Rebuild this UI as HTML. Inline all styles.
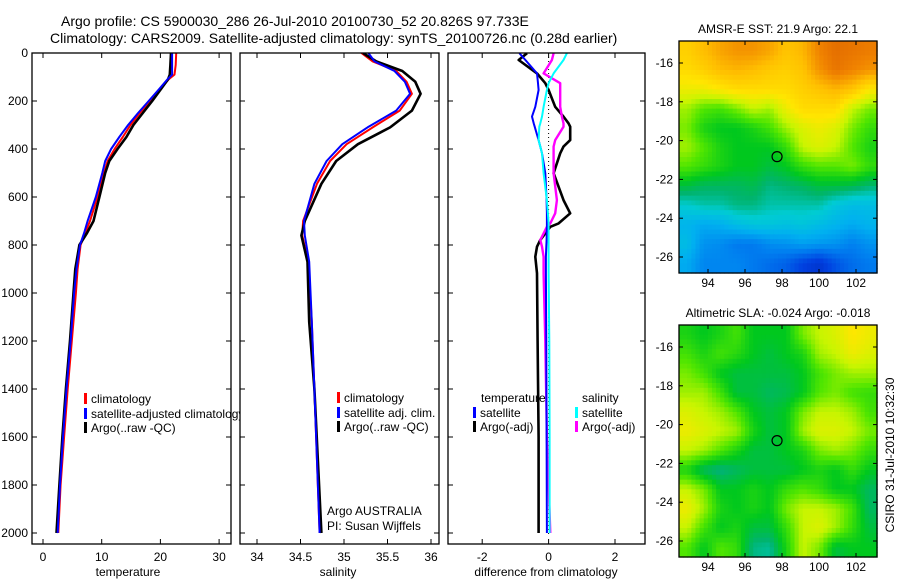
<!DOCTYPE html>
<html><head><meta charset="utf-8">
<style>
html,body{margin:0;padding:0;background:#fff;}
svg{display:block;font-family:"Liberation Sans",sans-serif;}
</style></head>
<body>
<svg id="fig" width="900" height="580" viewBox="0 0 900 580" xmlns="http://www.w3.org/2000/svg">
<rect width="900" height="580" fill="#fff"/>
<text x="61" y="26" font-size="14">Argo profile: CS 5900030_286 26-Jul-2010 20100730_52 20.826S 97.733E</text>
<text x="50" y="43" font-size="14">Climatology: CARS2009. Satellite-adjusted climatology: synTS_20100726.nc (0.28d earlier)</text>
<g id="g"></g>
</svg>
<script>
// ---- data ----
const tDepth=[0,50,90,110,150,200,250,300,350,400,450,500,600,700,750,800,900,1000,1200,1400,1600,1800,2000];
const tClim=[22.7,22.6,22.4,21.4,20.0,18.3,16.5,14.9,13.6,12.2,11.0,10.4,9.3,8.0,7.2,6.4,5.9,5.6,4.9,4.2,3.6,3.0,2.6];
const tSat=[22.0,22.0,22.0,21.2,19.8,18.0,16.2,14.5,13.0,11.6,10.6,10.1,9.0,7.6,7.0,6.3,5.7,5.3,4.7,4.0,3.4,2.9,2.5];
const tArgo=[21.8,21.7,21.6,21.3,20.1,18.6,17.0,15.4,14.2,12.7,11.3,10.6,9.6,8.6,7.5,6.2,5.5,5.2,4.6,3.9,3.3,2.8,2.3];
const sDepth=[0,35,75,120,170,240,310,380,450,545,700,760,870,1120,1400,1700,2000];
const sClim=[35.20,35.33,35.60,35.72,35.78,35.64,35.33,35.03,34.84,34.69,34.53,34.52,34.59,34.63,34.66,34.69,34.72];
const sSat=[35.28,35.35,35.58,35.70,35.76,35.60,35.27,34.98,34.80,34.66,34.54,34.55,34.60,34.63,34.66,34.69,34.72];
const sArgo=[35.22,35.37,35.67,35.82,35.88,35.78,35.53,35.16,34.91,34.74,34.55,34.51,34.58,34.60,34.66,34.70,34.74];
const dDepth=[1,29,85,126,154,224,265,293,307,363,390,418,501,613,668,710,724,779,807,849,918,1200,1600,2000];
const dTSat=[-0.88,-0.7,-0.35,-0.32,-0.3,-0.4,-0.5,-0.45,-0.42,-0.3,-0.25,-0.2,-0.1,-0.06,-0.05,-0.05,-0.05,-0.06,-0.07,-0.08,-0.08,-0.07,-0.06,-0.05];
const dTArgo=[-0.65,-0.9,-0.35,-0.1,0.0,0.2,0.45,0.6,0.65,0.65,0.45,0.35,0.15,0.45,0.65,0.3,0.05,-0.25,-0.35,-0.4,-0.35,-0.33,-0.3,-0.3];
const dSSat=[0.55,0.45,0.15,0.0,-0.05,-0.15,-0.2,-0.25,-0.28,-0.3,-0.25,-0.2,-0.15,-0.05,-0.02,0.0,0.0,0.0,0.0,0.0,0.0,0.02,0.03,0.03];
const dSArgo=[0.15,0.1,-0.15,0.35,0.35,0.35,0.4,0.45,0.45,0.2,0.15,0.15,0.15,0.25,0.2,0.05,-0.05,-0.25,-0.2,-0.15,-0.15,-0.1,-0.05,0.05];
const sstGrid=[
[0.72,0.75,0.78,0.80,0.80,0.78,0.74,0.76,0.82,0.85,0.84,0.83],
[0.70,0.72,0.75,0.76,0.75,0.73,0.72,0.74,0.80,0.84,0.82,0.80],
[0.66,0.66,0.68,0.70,0.70,0.70,0.70,0.72,0.74,0.76,0.74,0.68],
[0.60,0.56,0.55,0.58,0.62,0.60,0.66,0.70,0.70,0.70,0.62,0.58],
[0.58,0.52,0.50,0.50,0.52,0.55,0.60,0.64,0.66,0.64,0.58,0.54],
[0.60,0.56,0.52,0.50,0.50,0.50,0.54,0.62,0.64,0.62,0.56,0.52],
[0.56,0.54,0.52,0.50,0.50,0.48,0.50,0.54,0.56,0.56,0.58,0.54],
[0.48,0.46,0.46,0.46,0.47,0.44,0.45,0.46,0.48,0.48,0.47,0.45],
[0.40,0.42,0.42,0.44,0.44,0.42,0.42,0.42,0.42,0.38,0.36,0.36],
[0.34,0.32,0.33,0.36,0.38,0.38,0.37,0.38,0.36,0.34,0.32,0.34],
[0.36,0.28,0.27,0.24,0.24,0.27,0.28,0.30,0.29,0.28,0.25,0.28],
[0.32,0.26,0.26,0.26,0.24,0.22,0.20,0.15,0.12,0.18,0.22,0.24]];
const slaGrid=[
[0.52,0.50,0.52,0.55,0.50,0.50,0.50,0.58,0.62,0.64,0.68,0.66],
[0.55,0.52,0.55,0.53,0.50,0.48,0.50,0.52,0.60,0.62,0.66,0.64],
[0.58,0.55,0.50,0.48,0.48,0.48,0.48,0.50,0.55,0.58,0.60,0.60],
[0.60,0.60,0.55,0.48,0.48,0.46,0.47,0.50,0.56,0.58,0.55,0.54],
[0.64,0.62,0.60,0.56,0.50,0.48,0.50,0.58,0.62,0.62,0.60,0.55],
[0.66,0.64,0.62,0.60,0.52,0.48,0.50,0.60,0.64,0.64,0.62,0.58],
[0.62,0.60,0.56,0.52,0.48,0.48,0.50,0.52,0.58,0.60,0.58,0.54],
[0.52,0.46,0.44,0.46,0.48,0.48,0.48,0.50,0.52,0.50,0.54,0.50],
[0.62,0.58,0.50,0.50,0.52,0.50,0.54,0.56,0.54,0.50,0.50,0.46],
[0.66,0.60,0.52,0.50,0.52,0.50,0.58,0.62,0.62,0.60,0.55,0.46],
[0.62,0.55,0.50,0.52,0.48,0.48,0.54,0.62,0.64,0.60,0.54,0.48],
[0.56,0.50,0.56,0.54,0.44,0.43,0.52,0.62,0.58,0.48,0.50,0.50]];
const depthTicks=[0,200,400,600,800,1000,1200,1400,1600,1800,2000];
const tempTicks=[0,10,20,30];
const salTicks=[34,34.5,35,35.5,36];
const salTickLabels=["34","34.5","35","35.5","36"];
const diffTicks=[-2,0,2];
const lonTicks=[94,96,98,100,102];
const latTicks=[-16,-18,-20,-22,-24,-26];
const argoLon=97.733, argoLat=-20.826;

// ---- helpers ----
const NS="http://www.w3.org/2000/svg";
const G=document.getElementById('g');
function mk(tag,attrs,parent){const e=document.createElementNS(NS,tag);for(const k in attrs)e.setAttribute(k,attrs[k]);(parent||G).appendChild(e);return e;}
const yD=d=>53+d*0.24;
const PT={x0:32,x1:231}, PS={x0:240,x1:439}, PD={x0:448,x1:645}, yTop=53, yBot=544;
const xT=v=>43+v*5.87;
const xS=v=>257+(v-34)*87;
const xD=v=>548.6+v*33.2;

function panel(P,name){
  const r=mk('rect',{x:P.x0,y:yTop,width:P.x1-P.x0,height:yBot-yTop,fill:'#fff',stroke:'none'});
  
  
}
function frame(P,name){
  const r=mk('rect',{x:P.x0,y:yTop,width:P.x1-P.x0,height:yBot-yTop,fill:'none',stroke:'#000','stroke-width':1.3});
  
  
  depthTicks.forEach(d=>{const y=yD(d);
    mk('line',{x1:P.x0,x2:P.x0+5,y1:y,y2:y,stroke:'#000'});
    mk('line',{x1:P.x1-5,x2:P.x1,y1:y,y2:y,stroke:'#000'});});
}
function xticks(P,ticks,labels,fx,name){
  ticks.forEach((v,i)=>{const x=fx(v);
    mk('line',{x1:x,x2:x,y1:yBot,y2:yBot-5,stroke:'#000'});
    mk('line',{x1:x,x2:x,y1:yTop,y2:yTop+5,stroke:'#000'});
    const t=mk('text',{x:x,y:561,'font-size':12,'text-anchor':'middle'});t.textContent=labels[i];
    
    
  });
}
function drawLine(xs,ds,fx,color,w,name,clip){
  const pts=xs.map((v,i)=>fx(v).toFixed(1)+','+yD(ds[i]).toFixed(1)).join(' ');
  const p=mk('polyline',{points:pts,fill:'none',stroke:color,'stroke-width':w,'stroke-linejoin':'round','clip-path':'url(#'+clip+')'});
  
  
}
const defs=mk('defs',{});
[['cT',PT],['cS',PS],['cD',PD]].forEach(([id,P])=>{const c=mk('clipPath',{id:id},defs);mk('rect',{x:P.x0,y:yTop,width:P.x1-P.x0,height:yBot-yTop},c);});

function legend(x,y,color,label,name){
  const b=mk('rect',{x:x,y:y-10,width:3,height:11,fill:color});
  
  
  const t=mk('text',{x:x+7,y:y,'font-size':12});t.textContent=label;
  
  
}
function txt(x,y,s,name,extra){const t=mk('text',Object.assign({x:x,y:y,'font-size':12},extra||{}));t.textContent=s;
  
  return t;}

// ---- temperature panel ----
panel(PT,'temperature');
drawLine(tClim,tDepth,xT,'#f00',2,'temp-climatology-line','cT');
drawLine(tArgo,tDepth,xT,'#000',2.6,'temp-argo-line','cT');
drawLine(tSat,tDepth,xT,'#00f',2,'temp-satellite-line','cT');
legend(84,403,'#f00','climatology','temp-legend-climatology');
legend(84,418,'#00f','satellite-adjusted climatology','temp-legend-satellite');
legend(84,432,'#000','Argo(..raw -QC)','temp-legend-argo');
depthTicks.forEach(d=>txt(28,yD(d)+4,String(d),'depth-tick-label',{'text-anchor':'end'}));
// ---- salinity panel ----
panel(PS,'salinity');
drawLine(sClim,sDepth,xS,'#f00',2,'sal-climatology-line','cS');
drawLine(sArgo,sDepth,xS,'#000',2.6,'sal-argo-line','cS');
drawLine(sSat,sDepth,xS,'#00f',2,'sal-satellite-line','cS');
legend(337,402,'#f00','climatology','sal-legend-climatology');
legend(337,417,'#00f','satellite adj. clim.','sal-legend-satellite');
legend(337,431,'#000','Argo(..raw -QC)','sal-legend-argo');
txt(327,515,'Argo AUSTRALIA','agency-label');
txt(327,530,'PI: Susan Wijffels','pi-label');
// ---- difference panel ----
panel(PD,'difference');
const z=mk('line',{x1:xD(0),x2:xD(0),y1:yD(0),y2:yD(2010),stroke:'#000','stroke-dasharray':'1,3'});


drawLine(dTArgo,dDepth,xD,'#000',2.6,'diff-temp-argo-line','cD');
drawLine(dSArgo,dDepth,xD,'#f0f',2.4,'diff-sal-argo-line','cD');
drawLine(dTSat,dDepth,xD,'#00f',2,'diff-temp-satellite-line','cD');
drawLine(dSSat,dDepth,xD,'#0ff',2,'diff-sal-satellite-line','cD');
txt(481,402,'temperature','diff-legend-temperature-header');
legend(473,417,'#00f','satellite','diff-legend-temp-satellite');
legend(473,431,'#000','Argo(-adj)','diff-legend-temp-argo');
txt(582,402,'salinity','diff-legend-salinity-header');
legend(575,417,'#0ff','satellite','diff-legend-sal-satellite');
legend(575,431,'#f0f','Argo(-adj)','diff-legend-sal-argo');

frame(PT,'temperature');frame(PS,'salinity');frame(PD,'difference');
xticks(PT,tempTicks,tempTicks.map(String),xT,'temperature');
xticks(PS,salTicks,salTickLabels,xS,'salinity');
xticks(PD,diffTicks,diffTicks.map(String),xD,'difference');
txt(128,576,'temperature','x-axis-title-temperature',{'text-anchor':'middle'});
txt(338,576,'salinity','x-axis-title-salinity',{'text-anchor':'middle'});
txt(546,576,'difference from climatology','x-axis-title-difference',{'text-anchor':'middle'});

// ---- maps ----
const cmapStops=[[0,[0,16,144]],[0.15,[0,64,224]],[0.25,[0,128,240]],[0.33,[0,176,240]],[0.4,[0,204,210]],[0.45,[0,180,110]],[0.5,[0,200,30]],[0.56,[80,230,0]],[0.62,[200,245,0]],[0.68,[255,230,0]],[0.75,[255,190,0]],[0.82,[240,130,0]],[0.9,[210,80,0]],[1,[170,30,0]]];
function cmap(v){for(let i=1;i<cmapStops.length;i++){if(v<=cmapStops[i][0]){const [a,ca]=cmapStops[i-1],[b,cb]=cmapStops[i];const f=(v-a)/(b-a);return 'rgb('+ca.map((c,k)=>Math.round(c+(cb[k]-c)*f)).join(',')+')';}}return 'rgb(170,30,0)';}
function sample(grid,fr,fc){
  const nr=grid.length,nc=grid[0].length;
  const r=Math.min(Math.max(fr,0),nr-1), c=Math.min(Math.max(fc,0),nc-1);
  const r0=Math.floor(r), c0=Math.floor(c), r1=Math.min(r0+1,nr-1), c1=Math.min(c0+1,nc-1);
  const a=r-r0, b=c-c0;
  return grid[r0][c0]*(1-a)*(1-b)+grid[r0][c1]*(1-a)*b+grid[r1][c0]*a*(1-b)+grid[r1][c1]*a*b;
}
function drawMap(M,grid,title,name){
  const lonX=l=>708+(l-94)*18.5;
  const latY=l=>M.y16+(-16-l)*M.dy;
  const lon0=92.43, lon1=103.14;
  const latTop=-16+(M.y16-M.y0)/M.dy, latBot=-16-(M.y1-M.y16)/M.dy;
  const nr=grid.length,nc=grid[0].length;
  const UP=4, NR=nr*UP, NC=nc*UP;
  const cw=(lon1-lon0)/NC, ch=(latTop-latBot)/NR;
  for(let r=0;r<NR;r++)for(let c=0;c<NC;c++){
    const v=sample(grid,(r+0.5)/UP-0.5,(c+0.5)/UP-0.5);
    const x0=lonX(lon0+c*cw), x1=lonX(lon0+(c+1)*cw), y0=latY(latTop-r*ch), y1=latY(latTop-(r+1)*ch);
    const cell=mk('rect',{x:x0.toFixed(2),y:y0.toFixed(2),width:(x1-x0+0.6).toFixed(2),height:(y1-y0+0.6).toFixed(2),fill:cmap(v)});
    
    
  }
  const f=mk('rect',{x:679,y:M.y0,width:198,height:M.y1-M.y0,fill:'none',stroke:'#000','stroke-width':1.3});
  
  
  lonTicks.forEach(l=>{const x=lonX(l);
    mk('line',{x1:x,x2:x,y1:M.y1,y2:M.y1-4,stroke:'#000'});
    mk('line',{x1:x,x2:x,y1:M.y0,y2:M.y0+4,stroke:'#000'});
    txt(x,M.y1+14,String(l),name+'-lon-tick-label',{'text-anchor':'middle'});});
  latTicks.forEach(l=>{const y=latY(l);
    mk('line',{x1:679,x2:683,y1:y,y2:y,stroke:'#000'});
    mk('line',{x1:873,x2:877,y1:y,y2:y,stroke:'#000'});
    txt(673,y+4,String(l),name+'-lat-tick-label',{'text-anchor':'end'});});
  const c=mk('circle',{cx:lonX(argoLon),cy:latY(argoLat),r:5,fill:'none',stroke:'#000','stroke-width':1.2});
  
  
  txt(778,M.y0-8,title,name+'-title',{'text-anchor':'middle'});
}
drawMap({y0:41,y1:273,y16:63,dy:19.4},sstGrid,'AMSR-E SST: 21.9 Argo: 22.1','sst-map');
drawMap({y0:325,y1:557,y16:347,dy:19.4},slaGrid,'Altimetric SLA: -0.024 Argo: -0.018','sla-map');
txt(0,0,'CSIRO 31-Jul-2010 10:32:30','timestamp-label',{'text-anchor':'middle',transform:'translate(894,455) rotate(-90)'});
</script>
</body></html>
